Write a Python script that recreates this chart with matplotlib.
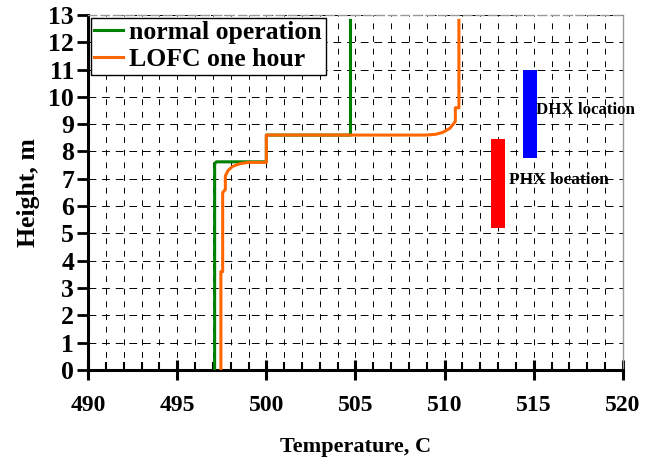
import matplotlib
matplotlib.use("Agg")
import matplotlib.pyplot as plt
from matplotlib.ticker import MultipleLocator

plt.rcParams['font.family'] = ['Liberation Serif', 'DejaVu Serif']
plt.rcParams['font.weight'] = 'bold'

# normal operation profile
normal_T = [497.1, 497.1, 497.2, 500.0, 500.0, 504.72, 504.72]
normal_H = [0.0, 7.55, 7.62, 7.62, 8.6, 8.6, 12.8]

# LOFC one hour profile
lofc_T = [497.45, 497.45, 497.55, 497.55, 497.7, 497.7, 497.85, 498.1, 498.5, 499.0, 500.0,
          500.0, 505.0, 509.0, 509.5, 509.9, 510.3, 510.6, 510.6, 510.8, 510.8]
lofc_H = [0.0, 3.6, 3.6, 6.5, 6.6, 7.1, 7.3, 7.45, 7.55, 7.6, 7.6,
          8.6, 8.6, 8.6, 8.63, 8.7, 8.85, 9.1, 9.6, 9.6, 12.8]

# heat exchanger locations: (x center, y bottom, y top)
dhx_x, dhx_bottom, dhx_top = 514.8, 7.75, 11.0
phx_x, phx_bottom, phx_top = 513.0, 5.2, 8.45

fig = plt.figure(figsize=(6.62, 4.67), dpi=100)
ax = fig.add_axes([0.133, 0.208, 0.808, 0.76])

ax.plot(normal_T, normal_H, color='#008000', lw=2.2, label='normal operation', zorder=3)
ax.plot(lofc_T, lofc_H, color='#FF6600', lw=2.2, label='LOFC one hour', zorder=4)

ax.bar([dhx_x], [dhx_top - dhx_bottom], bottom=[dhx_bottom], width=0.8, color='#0000FF', zorder=5)
ax.bar([phx_x], [phx_top - phx_bottom], bottom=[phx_bottom], width=0.8, color='#FF0000', zorder=5)

ax.text(515.1, 9.5, 'DHX location', fontsize=12.2, fontweight='bold', va='center', ha='left', zorder=6)
ax.text(513.6, 6.95, 'PHX location', fontsize=12.5, fontweight='bold', va='center', ha='left', zorder=6)

ax.set_xlim(490, 520)
ax.set_ylim(0, 13)
ax.xaxis.set_major_locator(MultipleLocator(5))
ax.xaxis.set_minor_locator(MultipleLocator(1))
ax.yaxis.set_major_locator(MultipleLocator(1))

ax.grid(which='both', axis='x', color='black', linestyle=(0, (6, 7)), lw=0.7)
ax.grid(which='major', axis='y', color='black', linestyle=(0, (8, 6)), lw=0.7)
ax.set_axisbelow(True)

ax.tick_params(axis='x', which='major', direction='inout', length=14, width=2.2, labelsize=17, pad=11)
ax.tick_params(axis='x', which='minor', direction='in', length=6, width=1.5)
ax.tick_params(axis='y', which='major', direction='out', length=8, width=2, labelsize=18.5, pad=2)

for lab in ax.get_xticklabels() + ax.get_yticklabels():
    lab.set_fontweight('bold')

ax.spines['left'].set_linewidth(2.2)
ax.spines['bottom'].set_linewidth(2.2)
ax.spines['right'].set_color('#999999')
ax.spines['right'].set_linewidth(1)
ax.spines['top'].set_color('#999999')
ax.spines['top'].set_linestyle((0, (6, 3)))
ax.spines['top'].set_linewidth(1)

ax.set_xlabel('Temperature, C', fontsize=16, fontweight='bold', labelpad=15)
ax.set_ylabel('Height, m', fontsize=18.5, fontweight='bold', labelpad=6)

leg = ax.legend(loc='upper left', fontsize=18.5, frameon=True, fancybox=False,
                edgecolor='black', framealpha=1, borderpad=0.15, handlelength=1.1,
                handletextpad=0.25, labelspacing=0.15, borderaxespad=0.1)
leg.get_frame().set_linewidth(1.0)
for t in leg.get_texts():
    t.set_fontweight('bold')

fig.savefig('out.png', dpi=100)
